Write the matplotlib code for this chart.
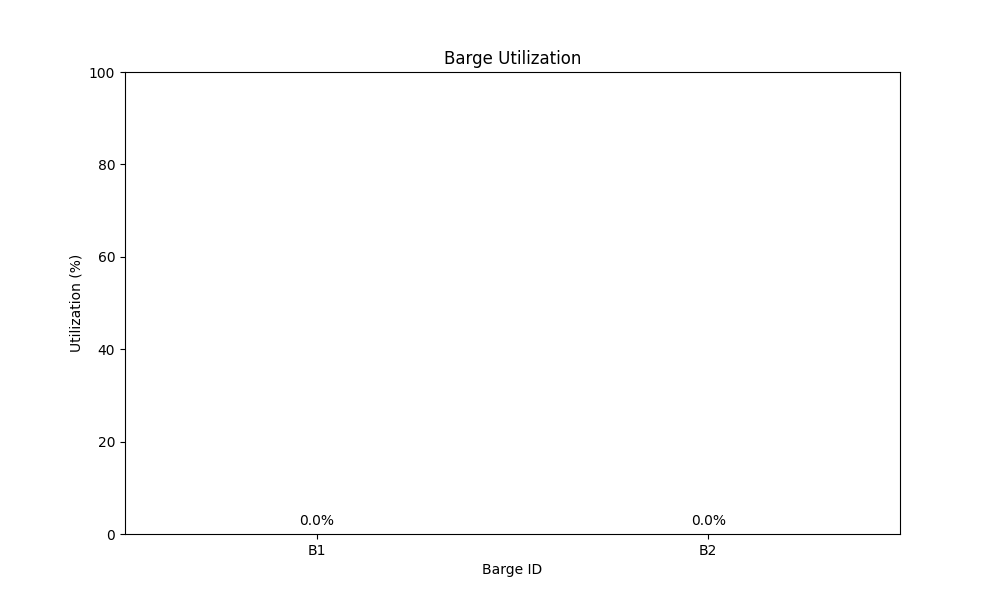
import matplotlib
matplotlib.use('Agg')
import matplotlib.pyplot as plt

barge_ids = ['B1', 'B2']
utilization = [0.0, 0.0]

fig, ax = plt.subplots(figsize=(10, 6))
bars = ax.bar(barge_ids, utilization, color='#1f77b4')

for i, v in enumerate(utilization):
    ax.text(i, v + 1.3, f'{v:.1f}%', ha='center', va='bottom')

ax.set_ylim(0, 100)
ax.set_title('Barge Utilization')
ax.set_xlabel('Barge ID')
ax.set_ylabel('Utilization (%)')

plt.savefig('out.png', dpi=100)
